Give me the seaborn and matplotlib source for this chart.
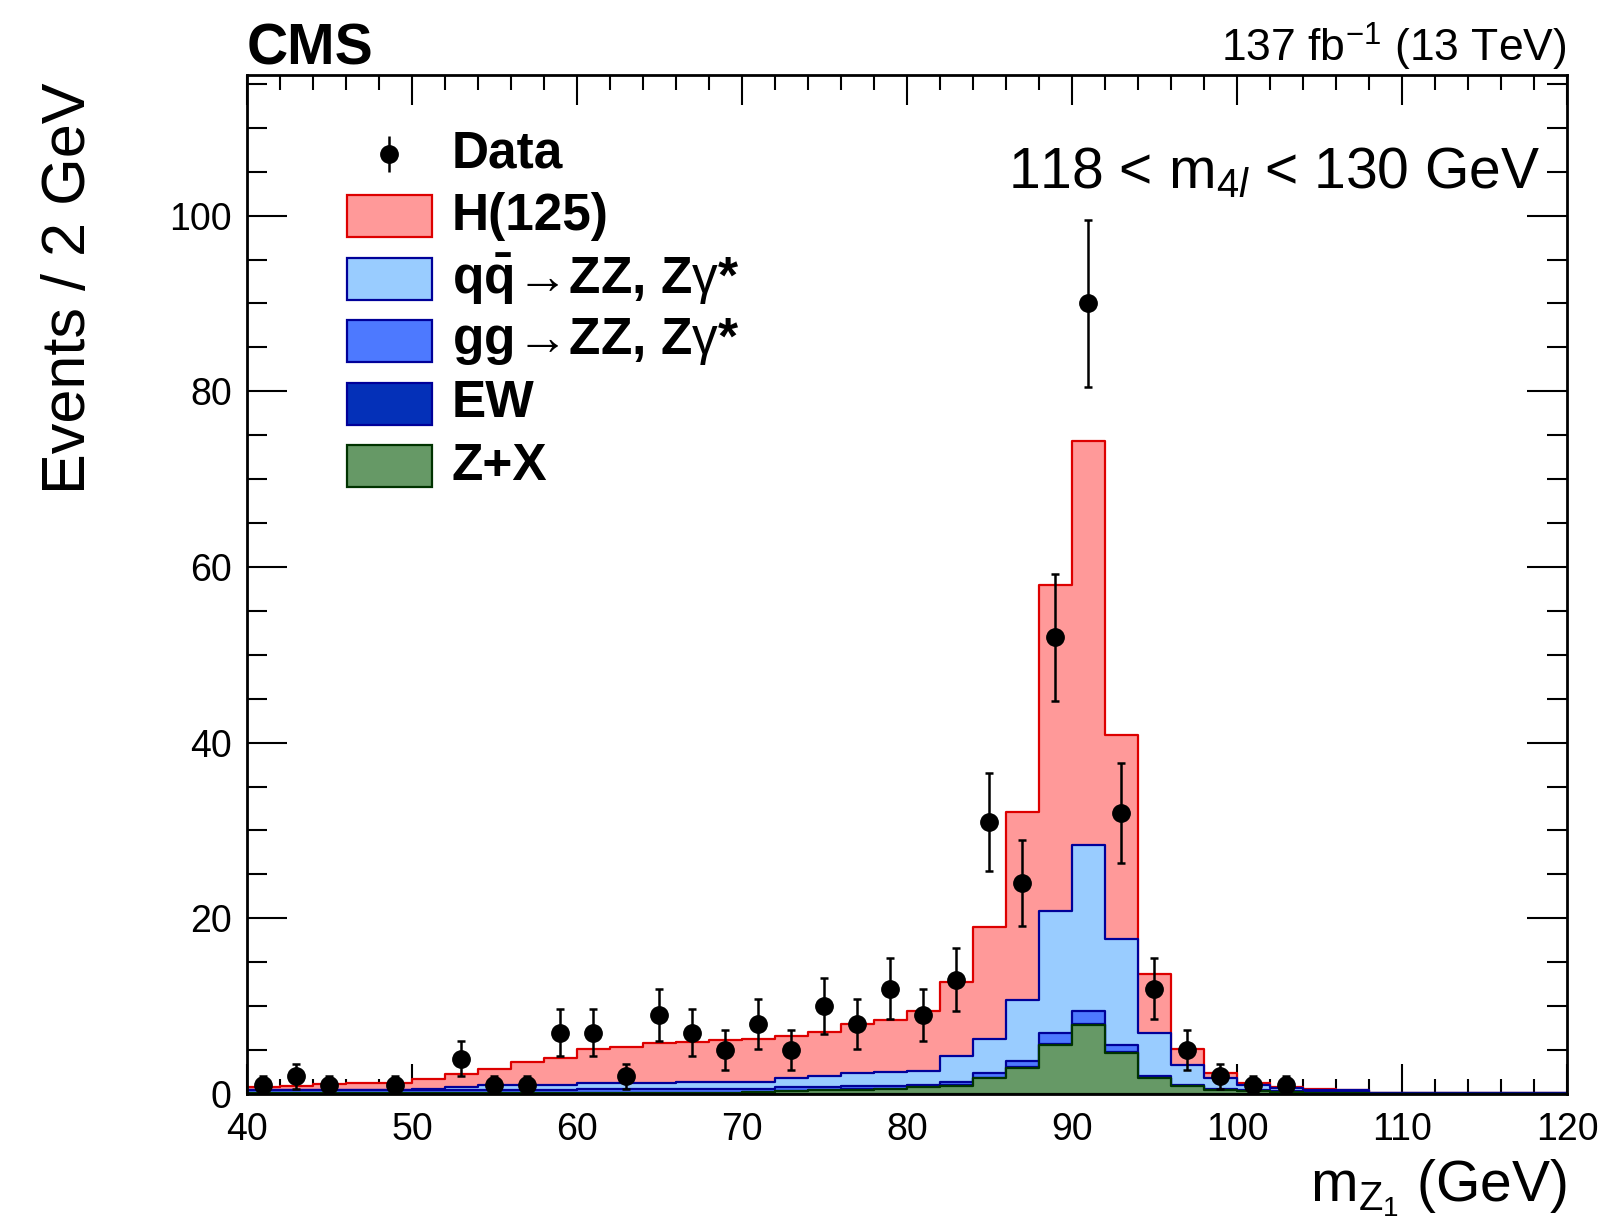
import numpy as np
import pandas as pd
import matplotlib
matplotlib.use("Agg")
import matplotlib.pyplot as plt
from matplotlib.ticker import MultipleLocator
from matplotlib.patches import Rectangle
import seaborn as sns

# 2 GeV bins from 40 to 120 GeV
edges = np.arange(40, 122, 2)
centers = edges[:-1] + 1

# per-process yields (events / 2 GeV)
zx = [0.12, 0.12, 0.12, 0.12, 0.12, 0.12, 0.12, 0.12, 0.12, 0.12,
      0.12, 0.12, 0.12, 0.12, 0.12, 0.2, 0.35, 0.4, 0.5, 0.55,
      0.75, 0.95, 1.8, 3.0, 5.6, 7.8, 4.7, 1.8, 0.9, 0.45,
      0.3, 0.18, 0.12, 0.08, 0.03, 0.03, 0.03, 0.03, 0.03, 0.03]
ew = [0.03, 0.03, 0.03, 0.03, 0.03, 0.03, 0.03, 0.03, 0.03, 0.03,
      0.03, 0.03, 0.03, 0.03, 0.03, 0.03, 0.03, 0.03, 0.03, 0.03,
      0.05, 0.05, 0.05, 0.05, 0.1, 0.12, 0.1, 0.05, 0.03, 0.03,
      0.03, 0.03, 0.03, 0.03, 0.01, 0.01, 0.01, 0.01, 0.01, 0.01]
ggzz = [0.25, 0.25, 0.25, 0.25, 0.25, 0.25, 0.3, 0.3, 0.3, 0.3,
        0.45, 0.45, 0.45, 0.45, 0.45, 0.37, 0.37, 0.32, 0.42, 0.37,
        0.25, 0.4, 0.55, 0.75, 1.3, 1.48, 0.8, 0.25, 0.12, 0.12,
        0.17, 0.14, 0.1, 0.09, 0.04, 0.04, 0.04, 0.04, 0.04, 0.04]
qqzz = [0.1, 0.1, 0.1, 0.1, 0.1, 0.15, 0.4, 0.55, 0.6, 0.55,
        0.6, 0.6, 0.7, 0.75, 0.8, 0.8, 1.05, 1.25, 1.45, 1.6,
        1.6, 2.95, 3.9, 6.9, 13.8, 18.9, 12.0, 4.9, 2.25, 1.2,
        0.5, 0.35, 0.25, 0.2, 0.07, 0.07, 0.07, 0.07, 0.07, 0.07]
higgs = [0.34, 0.45, 0.6, 0.7, 0.8, 1.15, 1.45, 1.85, 2.55, 3.1,
         3.9, 4.2, 4.5, 4.55, 4.8, 4.9, 4.85, 5.1, 5.55, 5.85,
         6.75, 8.35, 12.7, 21.4, 37.1, 46.0, 23.3, 6.7, 1.8, 0.6,
         0.2, 0.1, 0.03, 0.02, 0.02, 0.02, 0.02, 0.02, 0.02, 0.02]
data = [1, 2, 1, 0, 1, 0, 4, 1, 1, 7,
        7, 2, 9, 7, 5, 8, 5, 10, 8, 12,
        9, 13, 31, 24, 52, 90, 32, 12, 5, 2,
        1, 1, 0, 0, 0, 0, 0, 0, 0, 0]

labels = ["H(125)", "qq", "gg", "EW", "Z+X"]
legend_text = ["H(125)",
               r"$\mathbf{q\bar{q}}\!\rightarrow\!$ZZ, Z$\mathrm{\gamma}$*",
               r"$\mathbf{gg}\!\rightarrow\!$ZZ, Z$\mathrm{\gamma}$*", "EW", "Z+X"]
fills = ["#ff9999", "#99ccff", "#4d79ff", "#0430b8", "#669966"]
lines = ["#dd0000", "#000099", "#000099", "#000099", "#003300"]

sns.set_style("ticks")
plt.rcParams["font.family"] = ["Liberation Sans", "DejaVu Sans"]
plt.rcParams["text.color"] = "black"
plt.rcParams["axes.edgecolor"] = "black"
plt.rcParams["mathtext.fontset"] = "custom"
plt.rcParams["mathtext.rm"] = "Liberation Sans"
plt.rcParams["mathtext.it"] = "Liberation Sans:italic"
plt.rcParams["mathtext.bf"] = "Liberation Sans:bold"

# cumulative stack, top layer first (ROOT THStack style)
comps = [higgs, qqzz, ggzz, ew, zx]
cum = np.cumsum(np.array(comps[::-1]), axis=0)[::-1]
df = pd.concat([pd.DataFrame({"mass": centers, "events": cum[i], "layer": labels[i]})
                for i in range(len(labels))])

fig = plt.figure(figsize=(16.08, 12.24), dpi=100)
ax = fig.add_axes([0.1536, 0.1062, 0.8209, 0.8325])

for i, lab in enumerate(labels):
    sns.histplot(data=df[df["layer"] == lab], x="mass", weights="events",
                 bins=[float(e) for e in edges],
                 element="step", fill=True, facecolor=fills[i], edgecolor=lines[i],
                 alpha=1, linewidth=1.6, ax=ax)

d = np.array(data, dtype=float)
m = d > 0
ax.errorbar(centers[m], d[m], yerr=np.sqrt(d[m]), fmt="o", color="black", ms=12.5,
            elinewidth=1.8, capsize=3, capthick=1.8, zorder=5)

ax.set_xlim(40, 120)
ax.set_ylim(0, 116)
ax.set_xlabel("")
ax.set_ylabel("")
ax.xaxis.set_major_locator(MultipleLocator(10))
ax.xaxis.set_minor_locator(MultipleLocator(2))
ax.yaxis.set_major_locator(MultipleLocator(20))
ax.yaxis.set_minor_locator(MultipleLocator(5))
ax.tick_params(axis="both", which="both", direction="in", top=True, right=True,
               width=1.5, colors="black", labelsize=27)
ax.tick_params(axis="x", which="major", length=21.6, pad=13)
ax.tick_params(axis="x", which="minor", length=10.8)
ax.tick_params(axis="y", which="major", length=28.8, pad=11)
ax.tick_params(axis="y", which="minor", length=14.4)
for s in ax.spines.values():
    s.set_linewidth(2)
    s.set_color("black")
    s.set_zorder(10)

# legend drawn by hand
row_y = 0.9225
step = 0.0613
ax.errorbar([0.1076], [row_y], yerr=[0.0177], transform=ax.transAxes, fmt="o",
            color="black", ms=12.5, elinewidth=1.8, capsize=0, clip_on=False)
ax.text(0.155, row_y, "Data", transform=ax.transAxes, fontsize=37,
        fontweight="bold", va="center", ha="left")
for i in range(len(labels)):
    y = row_y - (i + 1) * step
    ax.add_patch(Rectangle((0.0758, y - 0.0206), 0.0644, 0.0412, transform=ax.transAxes,
                           facecolor=fills[i], edgecolor=lines[i], linewidth=1.6))
    ax.text(0.155, y, legend_text[i], transform=ax.transAxes, fontsize=37,
            fontweight="bold", va="center", ha="left")

ax.text(0.980, 0.889, r"118 < m$_{4\mathit{l}}$ < 130 GeV", transform=ax.transAxes,
        fontsize=41, ha="right", va="baseline")

fig.text(0.1536, 0.9477, "CMS", fontsize=41, fontweight="bold", ha="left", va="baseline")
fig.text(0.9745, 0.9493, r"137 fb$^{\mathrm{-1}}$ (13 TeV)", fontsize=32,
         ha="right", va="baseline")
fig.text(0.9745, 0.018, r"m$_{\mathrm{Z}_{1}}$ (GeV)", fontsize=41, ha="right", va="baseline")
fig.text(0.0435, 0.933, "Events / 2 GeV", fontsize=44, rotation=90, ha="center", va="top")

fig.savefig("out.png", dpi=100)
